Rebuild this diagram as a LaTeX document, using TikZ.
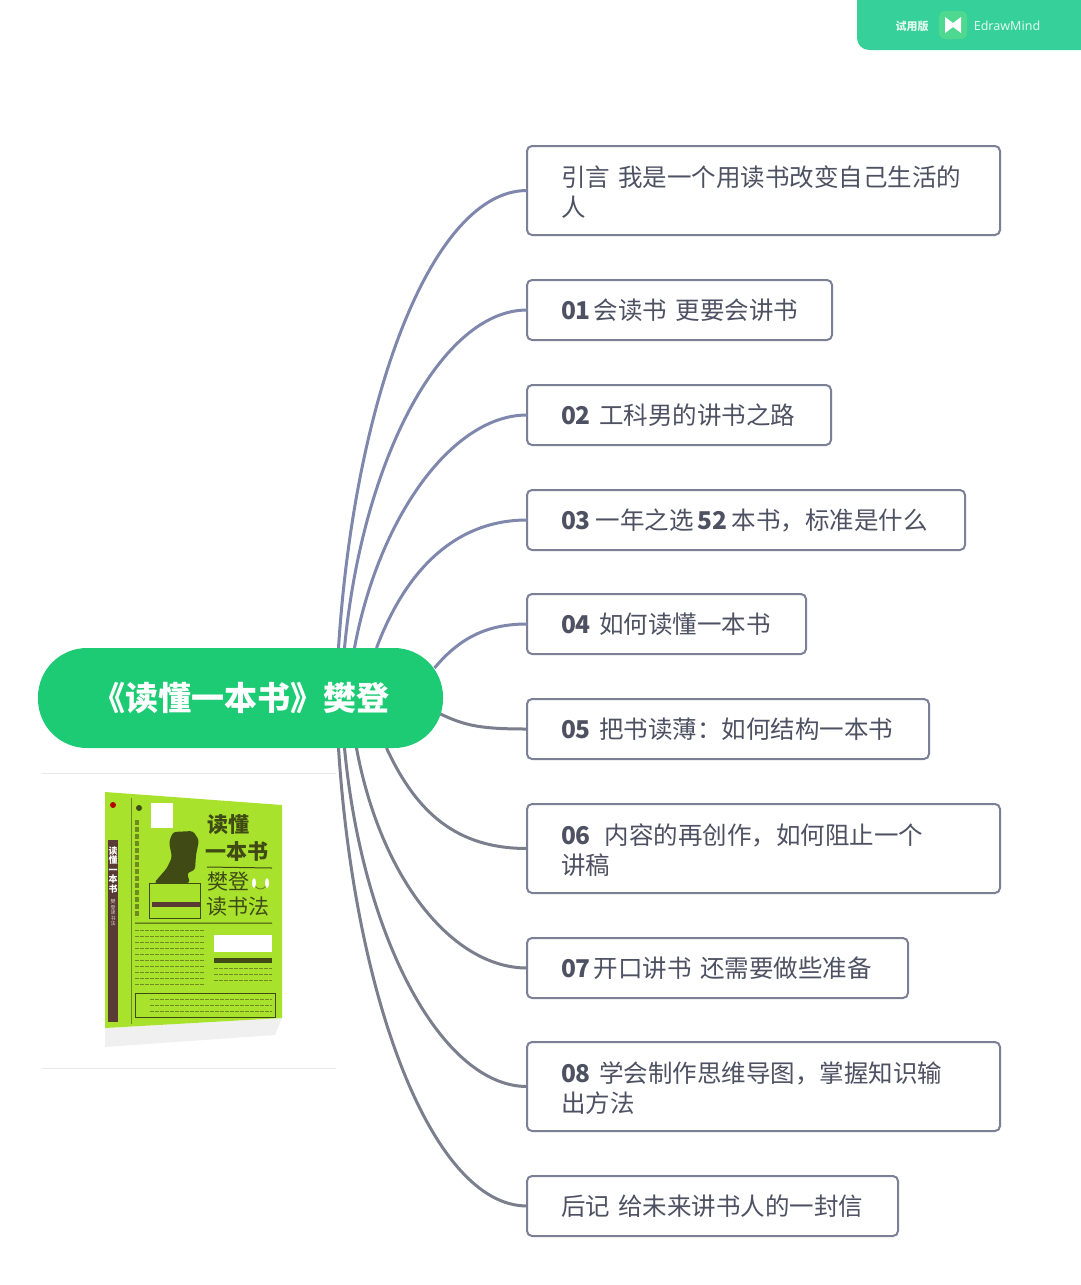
\documentclass[tikz,border=0pt]{standalone}
\usepackage{fontspec}
\setmainfont{Noto Sans CJK SC}
\newfontfamily\latinfont{Noto Sans}
\usetikzlibrary{positioning}
\definecolor{rootGreen}{HTML}{1CCB74}
\definecolor{badgeGreen}{HTML}{36D19A}
\definecolor{logoGreen}{HTML}{4FD88F}
\definecolor{boxLine}{HTML}{7C8097}
\definecolor{boxText}{HTML}{4D5162}
\definecolor{linkTop}{HTML}{7F87AC}
\definecolor{linkLow}{HTML}{7B7E8C}
\definecolor{coverLime}{HTML}{A8E22C}
\definecolor{coverDark}{HTML}{3F4A14}
\definecolor{coverSoft}{HTML}{6F8A20}
\definecolor{spineBrown}{HTML}{5A3A35}
\tikzset{%
  % Specifications for style of nodes:
      rootbox/.style = {rectangle, rounded corners=49pt, fill=rootGreen, text=white,
                        minimum width=405pt, minimum height=100pt, outer sep=0pt,
                        font=\fontsize{33}{38}\selectfont\bfseries},
      leafbox/.style = {rectangle, rounded corners=5pt, draw=boxLine, line width=2pt,
                        fill=white, text=boxText, align=left, anchor=north west,
                        inner xsep=34pt, inner ysep=0pt, outer sep=0pt, minimum height=60pt,
                        font=\fontsize{24.5}{30}\selectfont},
     leaftall/.style = {leafbox, minimum height=89pt, execute at begin node=\rule{0pt}{23.5pt}},
     coverbig/.style = {text=coverDark, inner sep=0pt, font=\fontsize{21}{24}\selectfont\bfseries},
    coverthin/.style = {text=coverDark, inner sep=0pt, font=\fontsize{21}{24}\selectfont},
    coverline/.style = {coverSoft, line width=.6pt, dash pattern=on 4pt off 1pt},
}
\newcommand{\leafw}[1]{\dimexpr#1pt-68pt\relax}
\newcommand{\nb}[1]{{\bfseries #1}}
\begin{document}
\begin{tikzpicture}[x=1pt, y=-1pt]
  \useasboundingbox (0,0) rectangle (1080,1285);
  % Trial badge
  \fill[badgeGreen, rounded corners=12pt] (857,-20) -- (857,50) -- (1100,50) -- (1100,-20) -- cycle;
  \node (trial) [text=white!85!badgeGreen, font=\fontsize{11}{13}\selectfont\bfseries] at (912,26) {试用版};
  \node (logo) [fill=logoGreen, rounded corners=6pt, minimum size=28pt, inner sep=0pt] at (953,25) {};
  \fill[white] (945,17) -- (953,23) -- (961,17) -- (961,33) -- (953,27) -- (945,33) -- cycle;
  \node (brand) [text=white!85!badgeGreen, font=\fontsize{12.5}{15}\selectfont\latinfont\bfseries] at (1007,26) {EdrawMind};
  % Specification of nodes (position, etc.)
  \node (root) [rootbox] at (240.5,698) {\raisebox{-2pt}{《读懂一本书》樊登}};
  \node (b0) [leaftall, text width=\leafw{473}] at (527,146) {引言 我是一个用读书改变自己生活的\\人};
  \node (b1) [leafbox, text width=\leafw{305}, below=45pt of b0.south west, anchor=north west] {\mbox{\nb{01}\hspace{3pt}会读书 更要会讲书}};
  \node (b2) [leafbox, text width=\leafw{304}, below=45pt of b1.south west, anchor=north west] {\mbox{\nb{02} 工科男的讲书之路}};
  \node (b3) [leafbox, text width=\leafw{438}, below=45pt of b2.south west, anchor=north west] {\mbox{\nb{03}\hspace{5pt}一年之选\,\nb{52}\,本书，标准是什么}};
  \node (b4) [leafbox, text width=\leafw{279}, below=44pt of b3.south west, anchor=north west] {\mbox{\nb{04} 如何读懂一本书}};
  \node (b5) [leafbox, text width=\leafw{402}, below=45pt of b4.south west, anchor=north west] {\mbox{\nb{05} 把书读薄：如何结构一本书}};
  \node (b6) [leaftall, text width=\leafw{473}, below=45pt of b5.south west, anchor=north west] {\nb{06}\hspace{14pt}内容的再创作，如何阻止一个\\讲稿};
  \node (b7) [leafbox, text width=\leafw{381}, below=45pt of b6.south west, anchor=north west] {\mbox{\nb{07}\hspace{3pt}开口讲书 还需要做些准备}};
  \node (b8) [leaftall, text width=\leafw{473}, below=44pt of b7.south west, anchor=north west] {\nb{08} 学会制作思维导图，掌握知识输\\出方法};
  \node (b9) [leafbox, text width=\leafw{371}, below=45pt of b8.south west, anchor=north west] {\mbox{后记 给未来讲书人的一封信}};
  % Specification of lines between nodes specified above
  \foreach \leaf/\sx/\sy/\ax/\ay/\bx/\col in {
      b0/98/-50/16/-250/-95/linkTop, b1/104/-50/18/-190/-85/linkTop,
      b2/114/-50/24/-130/-75/linkTop, b3/136/-50/30/-80/-70/linkTop,
      b4/194/-30/25/-30/-40/linkTop, b5/200/16/25/12/-45/linkLow,
      b6/146/50/30/65/-70/linkLow, b7/116/50/24/130/-75/linkLow,
      b8/104/50/18/190/-85/linkLow, b9/98/50/16/250/-95/linkLow}
    \draw[\col, line width=3pt] ([shift={(\sx,\sy)}]root.center)
      .. controls +(\ax,\ay) and +(\bx,0) .. (\leaf.west);
  % Book image and its two rules
  \draw[gray!18, line width=1pt] (42,773) -- (336,773) (42,1068) -- (336,1068);
  \fill[gray!12] (105,1028) -- (105,1047) -- (275,1035) -- (282,1018) -- cycle;
  \fill[coverLime] (105,792) -- (282,805) -- (282,1018) -- (105,1028) -- cycle;
  \fill[spineBrown] (108,840) -- (118,840) -- (118,1022) -- (108,1022) -- cycle;
  \draw[coverSoft, line width=.6pt] (131,798) -- (131,1024);
  \fill[red!70!black] (113,805) circle (3);
  \node (spine) [text=white, inner sep=0pt, align=center, font=\fontsize{9}{9.5}\selectfont\bfseries] at (113,870) {读\\懂\\一\\本\\书};
  \node (spine2) [text=white!80!spineBrown, inner sep=0pt, align=center, font=\fontsize{5}{5.5}\selectfont] at (113,913) {樊\\登\\读\\书\\法};
  \fill[white] (151,803) rectangle (173,828);
  \fill[coverDark, rounded corners=3pt] (173,832) -- (193,831) -- (199,840) -- (196,855) -- (195,870) -- (187,873) -- (190,883) -- (154,883) -- (167,868) -- (172,857) -- (169,842) -- cycle;
  \fill[coverDark] (139,808) circle (3);
  \draw[coverSoft, line width=4pt, dash pattern=on 5pt off 2pt] (137,820) -- (137,918);
  \draw[coverDark, line width=.8pt] (149,883) rectangle (200,918);
  \fill[spineBrown] (152,902) rectangle (200,907);
  \node (t1) [coverbig] at (228,825) {读懂};
  \node (t2) [coverbig] at (237,852) {一本书};
  \node (t3) [coverthin] at (228,882) {樊登};
  \node (t4) [coverthin] at (238,907) {读书法};
  \draw[coverDark, line width=1pt] (207,867) -- (272,868) (135,923) -- (272,923);
  \draw[coverSoft, line width=1pt] (254,882) arc[start angle=180, end angle=0, x radius=6.5, y radius=7];
  \fill[white] (254,883) ellipse (2 and 5) (267,883) ellipse (2 and 5);
  \fill[white] (214,935) rectangle (272,952);
  \fill[coverDark] (214,958) rectangle (272,963);
  \foreach \ry in {930,936,...,985}
    \draw[coverline] (135,\ry) -- (205,\ry);
  \foreach \ry in {968,974,980}
    \draw[coverline] (214,\ry) -- (272,\ry);
  \draw[coverDark, line width=.6pt] (135,993) rectangle (275,1017);
  \foreach \ry in {999,1005,1011}
    \draw[coverline] (150,\ry) -- (272,\ry);
\end{tikzpicture}
\end{document}
